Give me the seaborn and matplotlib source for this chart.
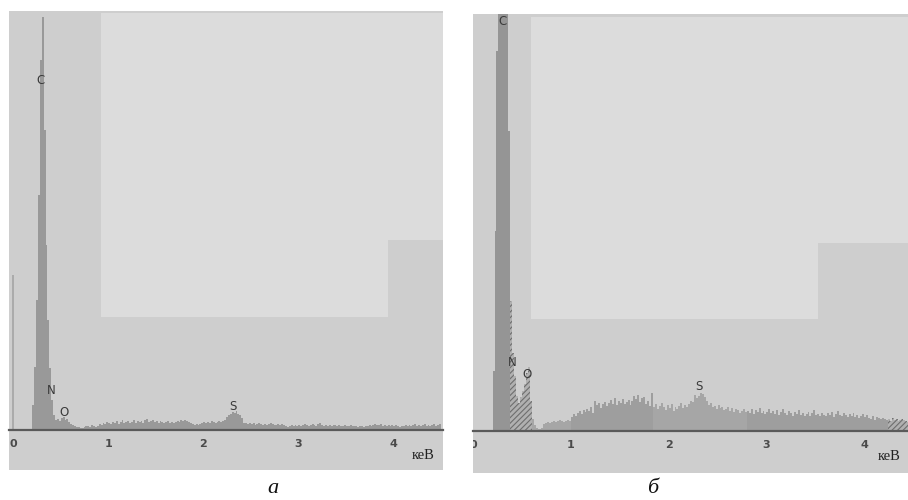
import matplotlib

matplotlib.use("Agg")

import matplotlib.pyplot as plt
import numpy as np
import pandas as pd
import seaborn as sns
from matplotlib.patches import Rectangle
from matplotlib.ticker import FuncFormatter, MultipleLocator

# EDX spectra, counts per 0.02 keV channel, channel 0 starts at 0 keV
BIN_WIDTH = 0.02

COUNTS_A = [
    0, 0, 0, 0, 0, 0, 0, 0, 0, 0,
    25, 63, 130, 235, 370, 413, 300, 185, 110, 62,
    30, 15, 10, 11, 9, 12, 13, 10, 11, 8,
    6, 5, 4, 3, 3, 2, 2, 3, 4, 4,
    3, 5, 4, 3, 4, 6, 5, 7, 6, 8,
    7, 6, 8, 7, 9, 6, 8, 10, 7, 8,
    9, 7, 8, 10, 7, 9, 8, 9, 7, 10,
    11, 8, 9, 10, 8, 9, 7, 9, 8, 7,
    8, 9, 7, 8, 7, 8, 9, 8, 10, 9,
    10, 9, 8, 7, 6, 5, 6, 5, 6, 7,
    8, 7, 8, 7, 9, 8, 7, 8, 9, 8,
    9, 10, 13, 15, 16, 18, 17, 19, 16, 15,
    12, 7, 7, 6, 7, 6, 7, 5, 6, 7,
    6, 5, 6, 5, 6, 7, 6, 5, 5, 6,
    5, 6, 5, 4, 3, 4, 5, 4, 5, 4,
    5, 4, 5, 6, 5, 4, 5, 6, 5, 4,
    6, 7, 5, 4, 5, 4, 5, 4, 5, 5,
    4, 5, 4, 4, 5, 4, 4, 5, 4, 4,
    4, 3, 4, 4, 3, 4, 4, 5, 4, 5,
    6, 5, 5, 6, 4, 5, 4, 5, 4, 5,
    4, 5, 4, 3, 4, 4, 5, 4, 5, 4,
    5, 6, 4, 5, 4, 5, 6, 4, 5, 4,
    5, 6, 4, 5, 6,
]

COUNTS_B = [
    0, 0, 0, 0, 0, 0, 0, 0, 0, 0,
    60, 200, 380, 650, 700, 700, 650, 450, 300, 130,
    78, 55, 35, 28, 34, 40, 47, 58, 64, 30,
    12, 6, 3, 2, 2, 3, 7, 8, 9, 8,
    9, 10, 9, 10, 11, 10, 9, 10, 11, 10,
    14, 17, 15, 18, 20, 17, 21, 19, 22, 20,
    24, 18, 30, 26, 28, 23, 27, 29, 25, 28,
    31, 27, 33, 26, 30, 28, 32, 27, 29, 31,
    26, 30, 35, 32, 36, 29, 33, 34, 27, 30,
    25, 38, 24, 27, 22, 25, 28, 24, 21, 26,
    23, 27, 20, 24, 22, 25, 28, 23, 26, 24,
    27, 30, 29, 36, 33, 35, 38, 37, 34, 30,
    26, 28, 24, 25, 22, 26, 23, 24, 21, 22,
    24, 20, 23, 19, 22, 21, 18, 20, 22, 19,
    20, 18, 22, 17, 21, 19, 23, 18, 20, 17,
    19, 22, 18, 20, 17, 21, 16, 19, 22, 18,
    16, 20, 18, 15, 19, 17, 21, 16, 18, 15,
    17, 19, 15, 18, 21, 16, 17, 15, 18, 16,
    15, 18, 16, 19, 14, 17, 20, 16, 15, 18,
    16, 14, 17, 15, 18, 14, 16, 13, 15, 17,
    14, 16, 13, 12, 15, 11, 14, 13, 12, 13,
    12, 11, 12, 10, 13, 11, 12, 10, 11, 12,
    11, 10, 9,
]

ZERO_PEAK_A = 155

# region markers of the spectrum software (keV ranges)
SEGMENT_EDGES_B = [0.0, 0.38, 0.60, 1.00, 1.84, 2.80, 4.24, 4.46]
SEGMENT_KIND_B = ["peak", "roi", "light", "dark", "light", "dark", "roi"]

ELEMENTS_A = ["C", "N", "O", "S"]
ELEMENTS_B = ["C", "N", "O", "S"]
TICK_LABELS = ["0", "1", "2", "3", "4"]
UNIT = "кеВ"
PANEL_NAMES = ["а", "б"]

# layout
LABEL_POS_A = [(0.284, 350), (0.40, 40), (0.537, 18), (2.316, 24)]
LABEL_POS_B = [(0.304, 409), (0.406, 68), (0.549, 56), (2.31, 44)]

BG_OUTER = "#cecece"
BG_INNER = "#dcdcdc"
SPEC = "#999999"
STYLES = {
    "peak": dict(color="#959595"),
    "light": dict(color="#a6a6a6"),
    "dark": dict(color="#9e9e9e"),
    "roi": dict(color="#b0b0b0", hatch="//////", edgecolor="#6e6e6e"),
    "all": dict(color=SPEC),
}


def spectrum_frame(counts: list[int], edges: list[float], kinds: list[str]) -> pd.DataFrame:
    n = len(counts)
    start = np.arange(n) * BIN_WIDTH
    df = pd.DataFrame({"energy": start + BIN_WIDTH / 2, "start": start, "counts": counts})
    idx = np.searchsorted(np.round(edges, 4), np.round(start, 4), side="right") - 1
    df["kind"] = [kinds[min(i, len(kinds) - 1)] for i in idx]
    return df


def setup_axes(ax, xlim, ylim, inner_rects, clip_labels=False) -> None:
    ax.set_facecolor(BG_OUTER)
    for x0, y0, w, h in inner_rects:
        ax.add_patch(Rectangle((x0, y0), w, h, transform=ax.transAxes,
                               facecolor=BG_INNER, edgecolor="none", zorder=0.5))
    ax.set_xlim(*xlim)
    ax.set_ylim(*ylim)
    for side in ["top", "right", "left"]:
        ax.spines[side].set_visible(False)
    ax.spines["bottom"].set_position(("data", 0))
    ax.spines["bottom"].set_color("#5a5a5a")
    ax.spines["bottom"].set_linewidth(1.6)
    ax.spines["bottom"].set_zorder(3)
    ax.set_yticks([])
    ax.set_ylabel("")
    ax.set_xlabel("")
    ax.xaxis.set_major_locator(MultipleLocator(0.5))
    ax.xaxis.set_minor_locator(MultipleLocator(0.1))
    ax.xaxis.set_major_formatter(FuncFormatter(
        lambda v, _: TICK_LABELS[int(round(v))] if abs(v - round(v)) < 1e-6 and 0 <= round(v) < len(TICK_LABELS) else ""))
    ax.tick_params(axis="x", which="major", direction="out", length=4.5, width=1.1,
                   color="#5a5a5a", labelsize=8, labelcolor="#4a4a4a", pad=2)
    ax.tick_params(axis="x", which="minor", direction="out", length=2.5, width=1.1, color="#5a5a5a")
    for lbl in ax.get_xticklabels():
        lbl.set_fontweight("bold")
    if clip_labels:
        for tick in ax.xaxis.get_major_ticks():
            tick.label1.set_clip_box(ax.bbox)
            tick.label1.set_clip_on(True)


def draw_spectrum(ax, df: pd.DataFrame) -> None:
    for kind, sub in df.groupby("kind", sort=False):
        # split into contiguous runs
        run = (sub["start"].diff().round(4) != BIN_WIDTH).cumsum()
        for _, part in sub.groupby(run):
            lo = float(part["start"].iloc[0])
            hi = float(part["start"].iloc[-1]) + BIN_WIDTH
            sns.histplot(data=part, x="energy", weights="counts",
                         binwidth=BIN_WIDTH, binrange=(lo, hi),
                         element="step", fill=True, alpha=1, linewidth=0,
                         ax=ax, zorder=1, **STYLES[kind])


def main() -> None:
    sns.set_theme(style="white")
    plt.rcParams.update({
        "font.family": ["DejaVu Sans"],
        "hatch.linewidth": 0.8,
        "figure.facecolor": "white",
    })

    fig = plt.figure(figsize=(9.08, 5.0), dpi=100)

    # panel а
    ax_a = fig.add_axes([9 / 908, 1 - 470 / 500, 434 / 908, 459 / 500])
    df_a = spectrum_frame(COUNTS_A, [0.0, 4.6], ["all"])
    draw_spectrum(ax_a, df_a)
    ax_a.vlines(0.0, 0, ZERO_PEAK_A, color="#ababab", linewidth=1.4, zorder=1.5)
    setup_axes(ax_a, (-0.045, 4.523), (-40, 419),
               [(0.212, 0.501, 0.788, 0.495), (0.212, 0.333, 0.661, 0.168)])
    for name, (x, y) in zip(ELEMENTS_A, LABEL_POS_A):
        ax_a.text(x, y, name, ha="center", va="center", fontsize=8.5, color="#3a3a3a", zorder=4)
    ax_a.text(0.954, 0.031, UNIT, transform=ax_a.transAxes, ha="center", va="center",
              fontsize=10.5, family="Liberation Serif", color="#222222")

    # panel б
    ax_b = fig.add_axes([473 / 908, 1 - 473 / 500, 435 / 908, 459 / 500])
    df_b = spectrum_frame(COUNTS_B, SEGMENT_EDGES_B, SEGMENT_KIND_B)
    draw_spectrum(ax_b, df_b)
    setup_axes(ax_b, (0.0, 4.447), (-42, 417),
               [(0.133, 0.501, 0.867, 0.492), (0.133, 0.336, 0.660, 0.165)], clip_labels=True)
    for name, (x, y) in zip(ELEMENTS_B, LABEL_POS_B):
        ax_b.text(x, y, name, ha="center", va="center", fontsize=8.5, color="#3a3a3a", zorder=4)
    ax_b.text(0.956, 0.035, UNIT, transform=ax_b.transAxes, ha="center", va="center",
              fontsize=10.5, family="Liberation Serif", color="#222222")

    fig.text(273 / 908, 0.014, PANEL_NAMES[0], ha="center", va="baseline", fontsize=16,
             family="Liberation Serif", style="italic", color="#111111")
    fig.text(653 / 908, 0.014, PANEL_NAMES[1], ha="center", va="baseline", fontsize=16,
             family="Liberation Serif", style="italic", color="#111111")

    fig.savefig("out.png", dpi=100, facecolor="white")
    plt.close(fig)


if __name__ == "__main__":
    main()
